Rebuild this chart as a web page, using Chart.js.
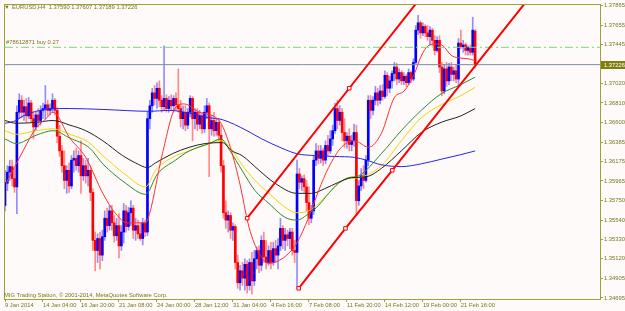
<!DOCTYPE html>
<html>
<head>
<meta charset="utf-8">
<title>EURUSD,H4</title>
<script src="https://cdn.jsdelivr.net/npm/chart.js@4.4.1/dist/chart.umd.min.js"></script>
<style>
  html, body { margin: 0; padding: 0; background: #fffafa; }
  #wrap { width: 625px; height: 311px; }
</style>
</head>
<body>
<div id="wrap"><canvas id="chart" width="625" height="311"></canvas></div>
<script>
// EURUSD H4 bars, 9 Jan 16:00 .. 24 Feb
const openP = [
  1.3570,1.3594,1.3606,1.3612,1.3599,1.3590,1.3671,1.3684,1.3671,1.3677,
  1.3667,1.3681,1.3664,1.3655,1.3668,1.3662,1.3673,1.3675,1.3679,1.3673,
  1.3675,1.3684,1.3673,1.3645,1.3629,1.3613,1.3597,1.3608,1.3591,1.3619,
  1.3621,1.3613,1.3624,1.3602,1.3613,1.3602,1.3608,1.3584,1.3532,1.3521,
  1.3534,1.3516,1.3536,1.3556,1.3548,1.3564,1.3551,1.3537,1.3548,1.3526,
  1.3541,1.3564,1.3547,1.3562,1.3567,1.3543,1.3548,1.3539,1.3534,1.3551,
  1.3541,1.3664,1.3678,1.3692,1.3686,1.3697,1.3684,1.3677,1.3686,1.3675,
  1.3684,1.3678,1.3686,1.3679,1.3675,1.3664,1.3671,1.3657,1.3671,1.3686,
  1.3664,1.3671,1.3658,1.3667,1.3653,1.3671,1.3678,1.3653,1.3662,1.3651,
  1.3660,1.3646,1.3613,1.3562,1.3554,1.3559,1.3543,1.3547,1.3508,1.3486,
  1.3499,1.3491,1.3506,1.3483,1.3508,1.3488,1.3512,1.3521,1.3505,1.3532,
  1.3514,1.3508,1.3521,1.3508,1.3523,1.3516,1.3526,1.3545,1.3532,1.3538,
  1.3534,1.3541,1.3521,1.3519,1.3604,1.3595,1.3599,1.3590,1.3573,1.3556,
  1.3564,1.3619,1.3629,1.3621,1.3629,1.3619,1.3635,1.3629,1.3642,1.3651,
  1.3675,1.3662,1.3671,1.3649,1.3640,1.3645,1.3636,1.3640,1.3649,1.3575,
  1.3591,1.3602,1.3597,1.3619,1.3684,1.3673,1.3684,1.3692,1.3684,1.3694,
  1.3688,1.3711,1.3697,1.3705,1.3713,1.3720,1.3707,1.3714,1.3705,1.3710,
  1.3703,1.3714,1.3707,1.3725,1.3760,1.3768,1.3757,1.3764,1.3757,1.3753,
  1.3760,1.3749,1.3738,1.3749,1.3720,1.3694,1.3718,1.3705,1.3720,1.3712,
  1.3716,1.3707,1.3746,1.3742,1.3744,1.3738,1.3741,1.3736,1.37590
];
const highP = [
  1.3608,1.3613,1.3619,1.3619,1.3610,1.3678,1.3691,1.3689,1.3684,1.3686,
  1.3687,1.3684,1.3671,1.3671,1.3675,1.3678,1.3681,1.3700,1.3684,1.3680,
  1.3691,1.3686,1.3676,1.3657,1.3635,1.3629,1.3613,1.3616,1.3624,1.3629,
  1.3632,1.3629,1.3640,1.3621,1.3619,1.3621,1.3613,1.3588,1.3541,1.3539,
  1.3541,1.3543,1.3564,1.3567,1.3570,1.3570,1.3559,1.3556,1.3561,1.3548,
  1.3572,1.3570,1.3568,1.3575,1.3570,1.3556,1.3554,1.3551,1.3556,1.3554,
  1.3671,1.3684,1.3697,1.3700,1.3703,1.3705,1.3689,1.3743,1.3690,1.3688,
  1.3690,1.3689,1.3692,1.3718,1.3684,1.3678,1.3678,1.3675,1.3689,1.3688,
  1.3675,1.3675,1.3673,1.3671,1.3678,1.3686,1.3681,1.3667,1.3671,1.3664,
  1.3664,1.3657,1.3619,1.3575,1.3564,1.3562,1.3551,1.3549,1.3516,1.3505,
  1.3508,1.3512,1.3510,1.3512,1.3519,1.3521,1.3525,1.3526,1.3537,1.3541,
  1.3532,1.3526,1.3530,1.3530,1.3532,1.3534,1.3556,1.3548,1.3545,1.3543,
  1.3545,1.3545,1.3532,1.3619,1.3610,1.3602,1.3603,1.3597,1.3590,1.3570,
  1.3624,1.3637,1.3635,1.3635,1.3632,1.3640,1.3646,1.3651,1.3657,1.3681,
  1.3684,1.3678,1.3675,1.3664,1.3649,1.3653,1.3646,1.3658,1.3657,1.3597,
  1.3610,1.3613,1.3624,1.3689,1.3689,1.3688,1.3699,1.3697,1.3700,1.3701,
  1.3716,1.3714,1.3710,1.3716,1.3725,1.3724,1.3718,1.3716,1.3714,1.3712,
  1.3718,1.3716,1.3729,1.3765,1.3776,1.3770,1.3768,1.3766,1.3765,1.3764,
  1.3762,1.3754,1.3753,1.3754,1.3725,1.3723,1.3725,1.3724,1.3725,1.3720,
  1.3723,1.3751,1.3760,1.3749,1.3746,1.3743,1.3744,1.3774,1.37607
];
const lowP = [
  1.3564,1.3586,1.3597,1.3591,1.3584,1.3561,1.3664,1.3665,1.3662,1.3660,
  1.3664,1.3660,1.3642,1.3651,1.3655,1.3657,1.3664,1.3664,1.3667,1.3668,
  1.3671,1.3668,1.3638,1.3623,1.3606,1.3588,1.3583,1.3584,1.3588,1.3606,
  1.3608,1.3606,1.3583,1.3597,1.3594,1.3591,1.3575,1.3521,1.3499,1.3508,
  1.3501,1.3510,1.3532,1.3541,1.3543,1.3543,1.3530,1.3532,1.3513,1.3521,
  1.3529,1.3541,1.3543,1.3548,1.3534,1.3532,1.3534,1.3532,1.3527,1.3536,
  1.3537,1.3653,1.3671,1.3679,1.3675,1.3677,1.3671,1.3673,1.3671,1.3671,
  1.3673,1.3671,1.3673,1.3671,1.3655,1.3653,1.3651,1.3653,1.3666,1.3640,
  1.3653,1.3651,1.3653,1.3648,1.3649,1.3664,1.3601,1.3646,1.3645,1.3646,
  1.3640,1.3606,1.3556,1.3545,1.3541,1.3534,1.3532,1.3501,1.3480,1.3478,
  1.3483,1.3478,1.3475,1.3478,1.3474,1.3483,1.3501,1.3497,1.3499,1.3508,
  1.3501,1.3505,1.3501,1.3505,1.3508,1.3501,1.3521,1.3523,1.3521,1.3526,
  1.3523,1.3516,1.3508,1.3480,1.3588,1.3586,1.3584,1.3564,1.3549,1.3551,
  1.3560,1.3613,1.3615,1.3616,1.3613,1.3615,1.3624,1.3626,1.3635,1.3648,
  1.3653,1.3657,1.3640,1.3633,1.3632,1.3629,1.3629,1.3634,1.3561,1.3570,
  1.3586,1.3588,1.3595,1.3613,1.3664,1.3668,1.3679,1.3678,1.3680,1.3684,
  1.3686,1.3689,1.3692,1.3697,1.3705,1.3701,1.3703,1.3701,1.3701,1.3699,
  1.3701,1.3703,1.3705,1.3723,1.3755,1.3751,1.3754,1.3753,1.3749,1.3744,
  1.3743,1.3733,1.3736,1.3714,1.3689,1.3691,1.3699,1.3701,1.3705,1.3705,
  1.3703,1.3699,1.3740,1.3736,1.3733,1.3733,1.3733,1.3733,1.37189
];
const closeP = [
  1.3595,1.3606,1.3612,1.3599,1.3590,1.3671,1.3684,1.3671,1.3677,1.3667,
  1.3681,1.3664,1.3655,1.3668,1.3662,1.3673,1.3675,1.3679,1.3673,1.3675,
  1.3684,1.3673,1.3645,1.3629,1.3613,1.3597,1.3608,1.3591,1.3619,1.3621,
  1.3613,1.3624,1.3602,1.3613,1.3602,1.3608,1.3584,1.3532,1.3521,1.3534,
  1.3516,1.3536,1.3556,1.3548,1.3564,1.3551,1.3537,1.3548,1.3526,1.3541,
  1.3564,1.3547,1.3562,1.3567,1.3543,1.3548,1.3539,1.3534,1.3551,1.3541,
  1.3664,1.3678,1.3692,1.3686,1.3697,1.3684,1.3677,1.3686,1.3675,1.3684,
  1.3678,1.3686,1.3679,1.3675,1.3664,1.3671,1.3657,1.3671,1.3686,1.3664,
  1.3671,1.3658,1.3667,1.3653,1.3671,1.3678,1.3653,1.3662,1.3651,1.3660,
  1.3646,1.3613,1.3562,1.3554,1.3559,1.3543,1.3547,1.3508,1.3486,1.3499,
  1.3491,1.3506,1.3483,1.3508,1.3488,1.3512,1.3521,1.3505,1.3532,1.3514,
  1.3508,1.3521,1.3508,1.3523,1.3516,1.3526,1.3545,1.3532,1.3538,1.3534,
  1.3541,1.3521,1.3519,1.3604,1.3595,1.3599,1.3590,1.3573,1.3556,1.3564,
  1.3619,1.3629,1.3621,1.3629,1.3619,1.3635,1.3629,1.3642,1.3651,1.3675,
  1.3662,1.3671,1.3649,1.3640,1.3645,1.3636,1.3640,1.3649,1.3575,1.3591,
  1.3602,1.3597,1.3619,1.3684,1.3673,1.3684,1.3692,1.3684,1.3694,1.3688,
  1.3711,1.3697,1.3705,1.3713,1.3720,1.3707,1.3714,1.3705,1.3710,1.3703,
  1.3714,1.3707,1.3725,1.3760,1.3768,1.3757,1.3764,1.3757,1.3753,1.3760,
  1.3749,1.3738,1.3749,1.3720,1.3694,1.3718,1.3705,1.3720,1.3712,1.3716,
  1.3707,1.3746,1.3742,1.3744,1.3738,1.3741,1.3736,1.3760,1.37226
];

// moving averages, [bar, price] read at a few spots
const maRed = [[0.5,1.3594],[7.6,1.3629],[13.1,1.3654],[17.3,1.3664],[20.2,1.3671],[27.3,1.3643],[34,1.3622],[41.2,1.3583],[46.6,1.3561],[51.6,1.3551],[59.2,1.3551],[60.9,1.3561],[66.3,1.3626],[71.8,1.3676],[75.5,1.3680],[81.8,1.3671],[90.2,1.3662],[94.4,1.3637],[98.6,1.3597],[102.8,1.3546],[107,1.3518],[111.1,1.3507],[115.3,1.3510],[119.5,1.3518],[122.9,1.3529],[127.9,1.3557],[132.1,1.3586],[136.3,1.3611],[141.7,1.3633],[147.2,1.3640],[153.1,1.3633],[158.5,1.3648],[164,1.3687],[168.1,1.3694],[172.3,1.3712],[175.3,1.3732],[178.2,1.3743],[181.6,1.3745],[184.5,1.3743],[187.8,1.3733],[190.8,1.3730],[195,1.3729],[198,1.3727]];
const maYellow = [[0,1.3651],[4.7,1.3647],[13.1,1.3651],[20.2,1.3653],[27.3,1.3647],[34.9,1.3639],[41.2,1.3624],[50.4,1.3604],[59.2,1.3590],[63.4,1.3608],[70.5,1.3622],[77.6,1.3629],[85.2,1.3636],[91,1.3640],[94.8,1.3633],[99.8,1.3614],[105.3,1.3597],[111.2,1.3583],[117.9,1.3568],[122.9,1.3562],[127.9,1.3564],[132.1,1.3572],[136.3,1.3583],[140.5,1.3594],[144.7,1.3599],[148.9,1.3600],[158.5,1.3613],[166.9,1.3640],[175.3,1.3665],[183.7,1.3679],[192,1.3689],[198,1.3698]];
const maGreen = [[0,1.3642],[4.7,1.3637],[13.1,1.3646],[20.2,1.3651],[27.3,1.3643],[35.7,1.3632],[41.2,1.3615],[50.8,1.3594],[59.2,1.3582],[64.2,1.3604],[71.8,1.3619],[77.6,1.3629],[86,1.3637],[91,1.3642],[94.8,1.3629],[99.8,1.3608],[105.3,1.3586],[111.2,1.3572],[117.9,1.3557],[122.9,1.3554],[127.9,1.3561],[132.1,1.3570],[136.3,1.3583],[140.5,1.3594],[144.7,1.3600],[148.9,1.3602],[158.5,1.3626],[166.9,1.3651],[175.3,1.3673],[183.7,1.3691],[192,1.3701],[198,1.3709]];
const maBlack = [[0,1.3662],[4.7,1.3659],[13.1,1.3660],[20.2,1.3662],[27.3,1.3657],[34,1.3651],[41.2,1.3640],[49.5,1.3624],[55,1.3616],[60,1.3611],[63.4,1.3616],[70.5,1.3626],[77.6,1.3633],[84.3,1.3637],[91.5,1.3638],[95.6,1.3629],[99.8,1.3624],[107,1.3608],[113.7,1.3594],[122.9,1.3583],[129.2,1.3583],[134.6,1.3588],[140.5,1.3595],[145.9,1.3600],[152.2,1.3601],[158.5,1.3610],[166.9,1.3629],[175.3,1.3649],[183.7,1.3660],[192,1.3667],[198,1.3675]];
const maBlue = [[0,1.3659],[4.7,1.3662],[7.6,1.3667],[17.3,1.3674],[27.3,1.3675],[41.2,1.3674],[60.9,1.3672],[69.2,1.3673],[77.6,1.3670],[86,1.3665],[91.5,1.3663],[101.9,1.3651],[108.2,1.3642],[116.6,1.3632],[122.9,1.3626],[130.4,1.3624],[138.8,1.3623],[147.2,1.3622],[152.2,1.3619],[158.5,1.3614],[166.9,1.3612],[175.3,1.3615],[183.7,1.3620],[192,1.3625],[198,1.3629]];

// channel trend lines (anchors + where they leave the window)
const chUpper = [[102,1.3556],[145,1.3697],[175,1.3795]];
const chLower = [[123.7,1.3480],[143.4,1.3545],[163.1,1.3608],[222,1.3799]];
const upperAnchors = 2;
const lowerAnchors = 3;

const bidPrice = 1.37226;
const orderPrice = 1.37414;

const yTicks = [1.37865,1.37655,1.37445,1.37020,1.36810,1.36600,1.36385,1.36175,1.35965,1.35750,1.35540,1.35330,1.35120,1.34905,1.34695];
const dateLabels = ['9 Jan 2014','14 Jan 04:00','16 Jan 20:00','21 Jan 08:00','24 Jan 00:00','28 Jan 12:00','31 Jan 04:00','4 Feb 16:00','7 Feb 08:00','11 Feb 20:00','14 Feb 12:00','19 Feb 00:00','21 Feb 16:00'];
const barsPerLabel = 16;

const titleText = 'EURUSD,H4  1.37590 1.37607 1.37189 1.37226';
const orderText = '#78612871 buy 0.27';
const footerText = 'MIG Trading Station, \u00a9 2001-2014, MetaQuotes Software Corp.';

// colours
const BG = '#fffafa';
const FRAME = '#a0a036';
const TEXT = '#77771c';
const BULL = '#0000ff';
const BEAR = '#ff0000';
const FONT = '"Liberation Sans", Arial, sans-serif';

const isBull = i => closeP[i] >= openP[i];
const pts = arr => arr.map(([x, y]) => ({ x: x, y: y }));

const wicks = highP.map((h, i) => ({ x: i, y: [lowP[i], h] }));
const bodies = openP.map((o, i) => ({ x: i, y: [Math.min(o, closeP[i]), Math.max(o, closeP[i])] }));

const X_MAX = 250.6;

function maLine(data, color, order) {
    return {
        type: 'line', data: pts(data), borderColor: color, borderWidth: 1,
        pointRadius: 0, cubicInterpolationMode: 'monotone', order: order, clip: 0
    };
}

function channel(data, anchors) {
    return {
        type: 'line', data: pts(data), borderColor: BEAR, borderWidth: 2,
        pointStyle: 'rect',
        pointRadius: data.map((_, i) => i < anchors ? 2.5 : 0),
        pointBackgroundColor: BG, pointBorderColor: BEAR, pointBorderWidth: 1,
        order: 1, clip: 0
    };
}

const decor = {
    id: 'mtDecor',
    beforeDraw(chart) {
        const c = chart.ctx;
        c.save();
        c.fillStyle = BG;
        c.fillRect(0, 0, chart.width, chart.height);
        c.restore();
    },
    afterDraw(chart) {
        const { ctx, chartArea: a } = chart;
        const y = chart.scales.y;
        ctx.save();
        ctx.strokeStyle = FRAME;
        ctx.lineWidth = 1;
        ctx.strokeRect(a.left - 0.5, a.top - 0.5, a.right - a.left + 1, a.bottom - a.top + 1);

        ctx.font = '5.8px ' + FONT;
        ctx.fillStyle = TEXT;
        ctx.textBaseline = 'middle';
        ctx.fillText('\u25BC', 4, 7);
        ctx.fillText(titleText, 12, 7);
        ctx.fillText(orderText, 6, y.getPixelForValue(orderPrice) - 5);
        ctx.fillText(footerText, 4, 295);

        // current price tag on the axis
        const py = Math.round(y.getPixelForValue(bidPrice));
        ctx.fillStyle = '#7f7f10';
        ctx.fillRect(a.right + 1, py - 4, 24, 8);
        ctx.fillStyle = '#ffffff';
        ctx.fillText(bidPrice.toFixed(5), a.right + 4, py);
        ctx.restore();
    }
};

new Chart(document.getElementById('chart'), {
    type: 'bar',
    data: {
        datasets: [
            { data: wicks, grouped: false, barThickness: 1, borderWidth: 0, order: 20,
              backgroundColor: c => isBull(c.dataIndex) ? 'rgba(70,70,255,0.6)' : 'rgba(255,60,60,0.6)' },
            { data: bodies, grouped: false, barThickness: 2, minBarLength: 1, borderWidth: 0, order: 19,
              backgroundColor: c => isBull(c.dataIndex) ? BULL : BEAR },
            maLine(maBlue, '#2626e8', 6),
            maLine(maBlack, '#222222', 6),
            maLine(maGreen, '#2e8b2e', 6),
            maLine(maYellow, '#f0d800', 6),
            maLine(maRed, '#ff3030', 5),
            channel(chUpper, upperAnchors),
            channel(chLower, lowerAnchors),
            { type: 'line', data: [{ x: 0, y: bidPrice }, { x: X_MAX, y: bidPrice }],
              borderColor: '#7d8ea2', borderWidth: 1, pointRadius: 0, order: 2 },
            { type: 'line', data: [{ x: 0, y: orderPrice }, { x: X_MAX, y: orderPrice }],
              borderColor: '#74dc74', borderWidth: 1, borderDash: [8, 3, 2, 3], pointRadius: 0, order: 2 }
        ]
    },
    options: {
        responsive: false,
        animation: false,
        events: [],
        devicePixelRatio: 1,
        layout: { padding: { left: 2, top: 2, right: 0, bottom: 0 } },
        plugins: { legend: { display: false }, tooltip: { enabled: false } },
        scales: {
            x: {
                type: 'linear', min: 0, max: X_MAX, offset: false,
                afterBuildTicks: s => { s.ticks = dateLabels.map((_, k) => ({ value: k * barsPerLabel })); },
                afterFit: s => { s.height = 12; },
                grid: { drawOnChartArea: false, drawTicks: true, tickLength: 3, color: FRAME, offset: false },
                border: { display: false },
                ticks: {
                    autoSkip: false, maxRotation: 0, minRotation: 0, align: 'start', padding: 0,
                    color: TEXT, font: { size: 5.8, family: FONT },
                    callback: (v, idx) => dateLabels[idx]
                }
            },
            y: {
                type: 'linear', position: 'right', min: 1.34684, max: 1.37873,
                afterBuildTicks: s => { s.ticks = yTicks.map(v => ({ value: v })); },
                afterFit: s => { s.width = 25; },
                grid: { drawOnChartArea: false, drawTicks: true, tickLength: 3, color: FRAME },
                border: { display: false },
                ticks: {
                    autoSkip: false, padding: 1, color: TEXT, font: { size: 5.8, family: FONT },
                    callback: v => Number(v).toFixed(5)
                }
            }
        }
    },
    plugins: [decor]
});
</script>
</body>
</html>
